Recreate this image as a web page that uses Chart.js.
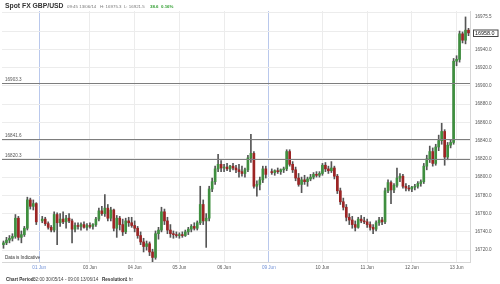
<!DOCTYPE html>
<html lang="en">
<head>
  <meta charset="UTF-8">
  <title>Spot FX GBP/USD</title>
  <script src="https://cdn.jsdelivr.net/npm/chart.js"></script>
  <style>
    body {
      margin: 0;
      background: #ffffff;
    }
    .wrap {
      width: 500px;
      height: 284px;
    }
  </style>
</head>
<body>
  <div class="wrap"><canvas id="fxChart" width="500" height="284"></canvas></div>
  <script>
    // hourly-ish candles, 30 May -> 13 Jun (null = weekend gap)
    const opens = [
      16726, 16728, 16731, 16733, 16735, 16755, 16734, 16737, 16744, 16775, 16768, 16771, null,
      16752, 16754, 16749, 16745, 16742, 16759, 16750, 16754, 16751, 16755, 16752, 16743, 16747, 16746, 16748, 16745,
      16747, 16746, 16748, 16754, 16763, 16760, 16766, 16755, 16764, 16744, 16755, 16748, 16740, 16752, 16750,
      16747, 16744, 16736, 16729, 16724, 16727, 16718, 16712, 16738, 16742, 16762, 16752, 16742, 16738, 16737,
      16736, 16737, 16736, 16740, 16743, 16746, 16744, 16750, 16770, 16752, 16755, 16787, 16795, 16809, 16814,
      16810, 16811, 16809, 16812, 16810, 16808, 16806, 16804, 16808, 16821, 16826, 16790, 16792, 16797, 16809, null,
      16806, 16805, 16807, 16806, 16808, 16809, 16828, 16814, 16808, 16799, 16792, 16797, 16795, 16798, 16800, 16803, 16802,
      16804, 16813, 16809, 16807, 16810, 16801, 16785, 16773, 16767, 16756, 16753, 16748, 16745, 16754, 16752,
      16751, 16748, 16745, 16743, 16750, 16753, 16751, 16785, 16794, 16786, 16791, 16799, 16801, 16790, 16788,
      16787, 16789, 16790, 16793, 16795, 16812, 16820, 16828, 16815, 16833, 16840, 16850, 16822, 16835, 16838,
      16927, 16929, 16957, 16950, 16961
    ];
    const highs = [
      16730, 16734, 16736, 16738, 16759, 16757, 16741, 16746, 16778, 16777, 16775, 16772, null,
      16757, 16756, 16751, 16747, 16762, 16761, 16760, 16762, 16758, 16760, 16754, 16750, 16750, 16750, 16751, 16749,
      16750, 16749, 16756, 16766, 16768, 16781, 16770, 16767, 16765, 16758, 16757, 16754, 16755, 16756, 16756,
      16752, 16746, 16740, 16733, 16730, 16729, 16721, 16741, 16745, 16767, 16765, 16756, 16748, 16741, 16740,
      16739, 16740, 16742, 16745, 16748, 16750, 16752, 16790, 16775, 16760, 16790, 16799, 16812, 16825, 16818,
      16814, 16815, 16813, 16815, 16813, 16814, 16812, 16810, 16824, 16847, 16828, 16796, 16800, 16812, 16812, null,
      16809, 16808, 16810, 16809, 16811, 16830, 16830, 16817, 16811, 16804, 16800, 16802, 16800, 16803, 16805, 16806, 16806,
      16815, 16816, 16812, 16817, 16812, 16803, 16788, 16777, 16770, 16760, 16757, 16752, 16756, 16758, 16756,
      16754, 16751, 16748, 16752, 16756, 16756, 16788, 16797, 16796, 16793, 16810, 16804, 16803, 16793, 16791,
      16790, 16792, 16795, 16797, 16815, 16824, 16834, 16832, 16836, 16846, 16859, 16852, 16838, 16841, 16930,
      16933, 16960, 16959, 16975.5, 16963
    ];
    const lows = [
      16722, 16726, 16728, 16730, 16733, 16731, 16728, 16735, 16742, 16765, 16764, 16748, null,
      16750, 16747, 16743, 16740, 16740, 16726, 16746, 16749, 16744, 16750, 16728, 16740, 16743, 16742, 16744, 16742,
      16744, 16743, 16746, 16752, 16758, 16757, 16752, 16752, 16741, 16734, 16742, 16736, 16738, 16746, 16745,
      16740, 16733, 16726, 16718, 16720, 16714, 16706, 16710, 16732, 16740, 16748, 16738, 16734, 16733, 16734,
      16733, 16734, 16735, 16737, 16740, 16742, 16742, 16748, 16748, 16723, 16752, 16784, 16792, 16806, 16806,
      16806, 16807, 16806, 16808, 16805, 16800, 16801, 16800, 16806, 16816, 16788, 16779, 16786, 16794, 16799, null,
      16803, 16802, 16804, 16803, 16805, 16807, 16812, 16805, 16796, 16790, 16783, 16792, 16790, 16796, 16798, 16800, 16800,
      16802, 16806, 16804, 16805, 16798, 16782, 16770, 16764, 16752, 16748, 16744, 16741, 16744, 16750, 16749,
      16745, 16742, 16738, 16741, 16747, 16748, 16749, 16783, 16771, 16783, 16789, 16795, 16788, 16785, 16785,
      16784, 16786, 16788, 16790, 16793, 16808, 16816, 16812, 16813, 16829, 16836, 16813, 16819, 16832, 16836,
      16922, 16926, 16947, 16946, 16955
    ];
    const closes = [
      16728, 16731, 16733, 16735, 16755, 16734, 16737, 16744, 16775, 16768, 16771, 16751, null,
      16754, 16749, 16745, 16742, 16759, 16750, 16754, 16751, 16755, 16752, 16743, 16747, 16746, 16748, 16745, 16747,
      16746, 16748, 16754, 16763, 16760, 16766, 16755, 16764, 16744, 16755, 16748, 16740, 16752, 16750, 16747,
      16744, 16736, 16729, 16724, 16727, 16718, 16712, 16738, 16742, 16762, 16752, 16742, 16738, 16737, 16736,
      16737, 16736, 16740, 16743, 16746, 16744, 16750, 16770, 16752, 16755, 16787, 16795, 16809, 16814, 16810,
      16811, 16809, 16812, 16810, 16808, 16806, 16804, 16808, 16821, 16826, 16790, 16792, 16797, 16809, 16803, null,
      16805, 16807, 16806, 16808, 16809, 16828, 16814, 16808, 16799, 16792, 16797, 16795, 16798, 16800, 16803, 16802, 16804,
      16813, 16809, 16807, 16810, 16801, 16785, 16773, 16767, 16756, 16753, 16748, 16745, 16754, 16752, 16751,
      16748, 16745, 16743, 16750, 16753, 16751, 16785, 16794, 16786, 16791, 16799, 16801, 16790, 16788, 16787,
      16789, 16790, 16793, 16795, 16812, 16820, 16828, 16815, 16833, 16840, 16850, 16822, 16835, 16838, 16927,
      16929, 16957, 16950, 16961, 16958
    ];

    // day labels on the time axis (candle index where each day starts)
    const tickIndex = [12, 29, 44, 59, 74, 89, 107, 122, 137, 152];
    const tickLabels = ['01 Jun', '03 Jun', '04 Jun', '05 Jun', '06 Jun', '09 Jun', '10 Jun', '11 Jun', '12 Jun', '13 Jun'];
    const weekStarts = ['01 Jun', '09 Jun'];

    const yTicks = [16720, 16740, 16760, 16780, 16800, 16820, 16840, 16860, 16880, 16900, 16920, 16940, 16960, 16980];
    const hiddenYLabels = [16960, 16980];

    // horizontal level lines
    const levels = [16903.3, 16841.6, 16820.3];
    const sessionHigh = 16975.5;
    const lastPrice = 16958.0;

    const labels = opens.map((o, i) => {
      const k = tickIndex.indexOf(i);
      return k >= 0 ? tickLabels[k] : '';
    });

    const GREEN = '#3f8f3f';
    const RED = '#9c2424';

    const bodyData = opens.map((o, i) => {
      if (o === null) return null;
      const lo = Math.min(o, closes[i]);
      const hi = Math.max(o, closes[i]);
      return [lo, hi === lo ? hi + 0.6 : hi];
    });
    const wickData = highs.map((h, i) => h === null ? null : [lows[i], h]);

    function txt(ctx, s, x, y, font, color, align) {
      ctx.font = font;
      ctx.fillStyle = color;
      ctx.textAlign = align || 'left';
      ctx.fillText(s, x, y);
    }

    const overlay = {
      id: 'overlay',
      afterDatasetsDraw(chart) {
        const { ctx, chartArea: a, scales } = chart;
        const y = scales.y;
        ctx.save();
        ctx.textBaseline = 'middle';

        // level lines
        levels.forEach(v => {
          const py = Math.round(y.getPixelForValue(v)) + 0.5;
          ctx.strokeStyle = '#7d7d7d';
          ctx.lineWidth = 1;
          ctx.beginPath();
          ctx.moveTo(a.left, py);
          ctx.lineTo(a.right, py);
          ctx.stroke();
          txt(ctx, v.toFixed(1), a.left + 3, py - 4, '4.6px "Liberation Sans", Arial, sans-serif', '#555');
        });

        // high marker + last price box on the right axis
        txt(ctx, sessionHigh.toFixed(1), a.right + 5, y.getPixelForValue(sessionHigh), '4.6px "Liberation Sans", Arial, sans-serif', '#555');
        const ly = Math.round(y.getPixelForValue(lastPrice));
        ctx.fillStyle = '#fff';
        ctx.fillRect(a.right + 3, ly - 3.5, 25, 7);
        ctx.strokeStyle = '#444';
        ctx.strokeRect(a.right + 3.5, ly - 3, 24.5, 6.5);
        txt(ctx, lastPrice.toFixed(1), a.right + 5, ly + 0.3, '5.4px "Liberation Sans", Arial, sans-serif', '#111');

        txt(ctx, 'Data is Indicative', a.left + 3, a.bottom - 4, '4.6px "Liberation Sans", Arial, sans-serif', '#333');

        // header
        ctx.textBaseline = 'alphabetic';
        txt(ctx, 'Spot FX GBP/USD', 5, 8, 'bold 6.8px "Liberation Sans", Arial, sans-serif', '#333');
        txt(ctx, '09:45 13/06/14', 67, 7.5, '4.4px "Liberation Sans", Arial, sans-serif', '#777');
        txt(ctx, 'H: 16975.3  L: 16921.5', 100, 7.5, '4.4px "Liberation Sans", Arial, sans-serif', '#777');
        txt(ctx, '38.6  0.16%', 150, 7.5, 'bold 4.4px "Liberation Sans", Arial, sans-serif', '#2e9d2e');

        // footer
        txt(ctx, 'Chart Period:', 6, 281, 'bold 4.6px "Liberation Sans", Arial, sans-serif', '#333');
        txt(ctx, '02:00 30/05/14 - 09:00 13/06/14', 33, 281, '4.6px "Liberation Sans", Arial, sans-serif', '#444');
        txt(ctx, 'Resolution:', 102, 281, 'bold 4.6px "Liberation Sans", Arial, sans-serif', '#333');
        txt(ctx, '1 hr', 125, 281, '4.6px "Liberation Sans", Arial, sans-serif', '#444');
        ctx.restore();
      }
    };

    const ctx = document.getElementById('fxChart').getContext('2d');
    const chart = new Chart(ctx, {
      type: 'bar',
      data: {
        labels: labels,
        datasets: [
          {
            label: 'Body',
            data: bodyData,
            grouped: false,
            barThickness: 2,
            borderWidth: 0,
            borderSkipped: false,
            backgroundColor: c => closes[c.dataIndex] >= opens[c.dataIndex] ? GREEN : RED
          },
          {
            label: 'Wick',
            data: wickData,
            grouped: false,
            barThickness: 1,
            borderWidth: 0,
            borderSkipped: false,
            backgroundColor: '#555'
          }
        ]
      },
      options: {
        responsive: false,
        animation: false,
        devicePixelRatio: 1,
        layout: { padding: { top: 11, left: 2, right: 0, bottom: 0 } },
        plugins: {
          legend: { display: false },
          tooltip: { enabled: false }
        },
        scales: {
          x: {
            afterFit: s => { s.height = 22; },
            grid: {
              offset: false,
              drawTicks: false,
              color: c => {
                const l = labels[c.index];
                if (!l) return 'rgba(0,0,0,0)';
                return weekStarts.includes(l) ? '#b9c8ec' : '#ececec';
              }
            },
            border: { color: '#d6d6d6' },
            ticks: {
              autoSkip: false,
              maxRotation: 0,
              padding: 3,
              font: { family: '"Liberation Sans", Arial, sans-serif', size: 4.6 },
              color: c => weekStarts.includes(labels[c.index]) ? '#6f8fd6' : '#555',
              callback: (v, i) => labels[i]
            }
          },
          y: {
            position: 'right',
            min: 16707,
            max: 16982,
            afterBuildTicks: s => { s.ticks = yTicks.map(v => ({ value: v })); },
            afterFit: s => { s.width = 30; },
            grid: { color: '#ececec', drawTicks: false },
            border: { color: '#d6d6d6' },
            ticks: {
              padding: 5,
              font: { family: '"Liberation Sans", Arial, sans-serif', size: 4.6 },
              color: '#555',
              callback: v => hiddenYLabels.includes(v) ? '' : v.toFixed(1)
            }
          }
        }
      },
      plugins: [overlay]
    });
  </script>
</body>
</html>
